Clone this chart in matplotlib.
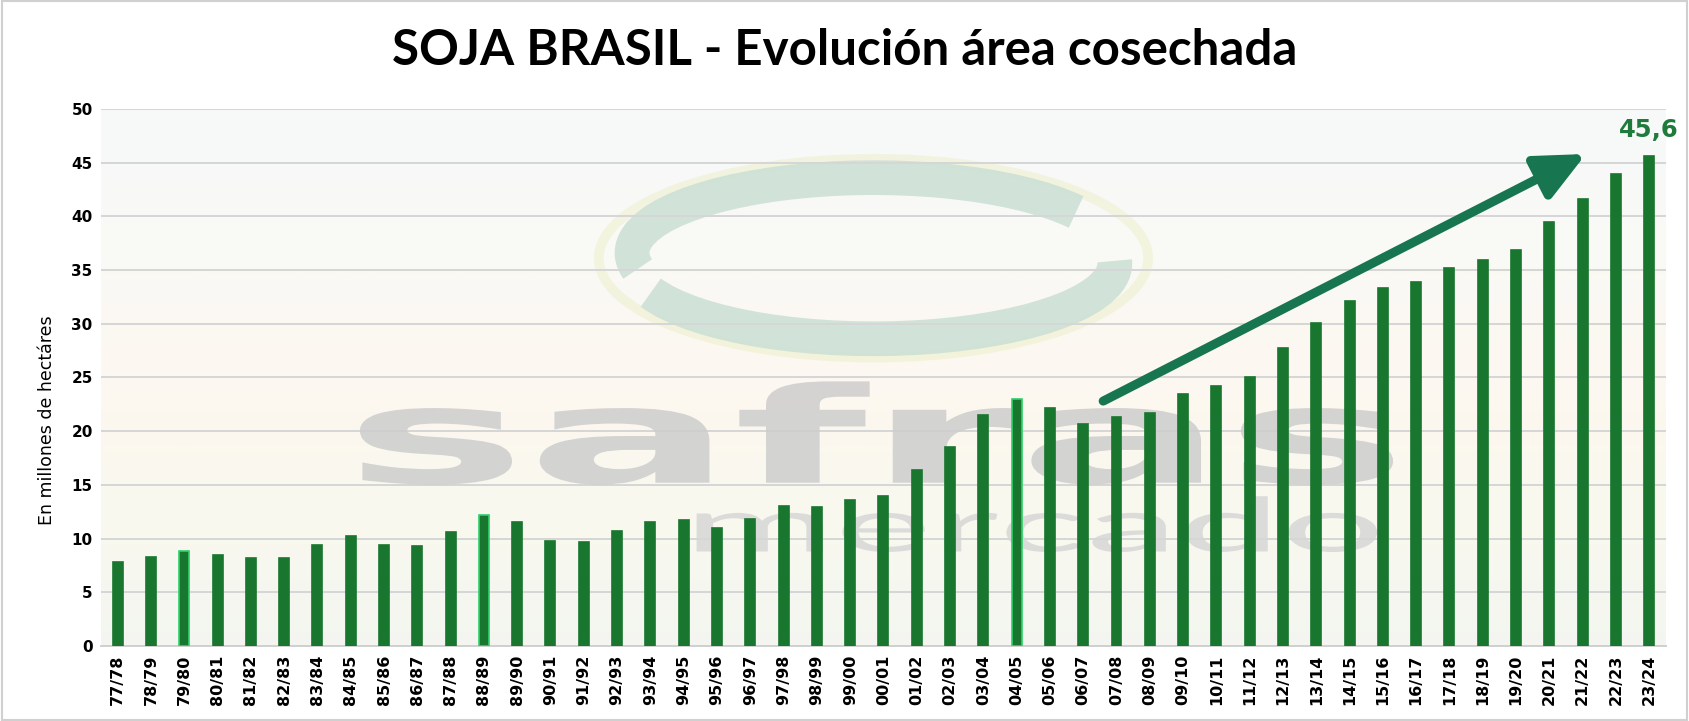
import numpy as np
import matplotlib
matplotlib.use("Agg")
import matplotlib.pyplot as plt
import matplotlib.patches as patches
from matplotlib.patheffects import AbstractPathEffect
from matplotlib.transforms import Affine2D

# ======================================================
# DATOS
# ======================================================
zafras = ["77/78", "78/79", "79/80", "80/81", "81/82", "82/83", "83/84", "84/85",
          "85/86", "86/87", "87/88", "88/89", "89/90", "90/91", "91/92", "92/93",
          "93/94", "94/95", "95/96", "96/97", "97/98", "98/99", "99/00", "00/01",
          "01/02", "02/03", "03/04", "04/05", "05/06", "06/07", "07/08", "08/09",
          "09/10", "10/11", "11/12", "12/13", "13/14", "14/15", "15/16", "16/17",
          "17/18", "18/19", "19/20", "20/21", "21/22", "22/23", "23/24"]
area = [7.8, 8.25, 8.8, 8.5, 8.2, 8.15, 9.4, 10.2,
        9.4, 9.3, 10.6, 12.2, 11.55, 9.8, 9.7, 10.7,
        11.5, 11.7, 11.0, 11.8, 13.0, 12.9, 13.6, 14.0,
        16.4, 18.5, 21.5, 23.0, 22.2, 20.7, 21.3, 21.7,
        23.5, 24.2, 25.0, 27.7, 30.1, 32.1, 33.3, 33.9,
        35.2, 35.9, 36.9, 39.5, 41.6, 43.9, 45.6]
destacadas = ["79/80", "88/89", "04/05"]   # barras con borde claro
etiqueta_final = "45,6"

y_ticks = [0, 5, 10, 15, 20, 25, 30, 35, 40, 45, 50]

verde_barra = "#19762f"
verde_flecha = "#17754f"


# estira el texto en horizontal (para la marca de agua)
class Estirar(AbstractPathEffect):
    def __init__(self, sx):
        super().__init__()
        self.sx = sx

    def draw_path(self, renderer, gc, tpath, affine, rgbFace=None):
        renderer.draw_path(gc, tpath, Affine2D().scale(self.sx, 1) + affine, rgbFace)


# ======================================================
# FIGURA
# ======================================================
fig = plt.figure(figsize=(16.89, 7.21), dpi=100)
fig.patch.set_facecolor("white")
ax = fig.add_axes([0.0598, 0.104, 0.9265, 0.745])

x = np.arange(len(zafras))
ax.set_xlim(-0.5, len(zafras) - 0.5)
ax.set_ylim(0, 50)

# fondo suave (degradado tipo foto)
grad = np.array([[0.965, 0.97, 0.97],
                 [0.975, 0.975, 0.965],
                 [0.99, 0.97, 0.94],
                 [0.99, 0.965, 0.93],
                 [0.975, 0.975, 0.925],
                 [0.955, 0.96, 0.935]])
ax.imshow(grad[:, None, :], extent=(-0.5, len(zafras) - 0.5, 0, 50),
          aspect="auto", interpolation="bicubic", zorder=0, alpha=0.85)

# ======================================================
# MARCA DE AGUA (logo safras)
# ======================================================
cx, cy = 22.7, 36.1
ax.add_patch(patches.Ellipse((cx, cy), 16.5, 18.5, fill=False,
                             lw=7, color="#eef1cf", alpha=0.6, zorder=0.4))
ax.add_patch(patches.Arc((cx, cy + 0.5), 14.5, 14.0, theta1=32, theta2=192,
                         lw=25, color="#cde0d6", alpha=0.9, zorder=0.5))
ax.add_patch(patches.Arc((cx, cy - 0.5), 14.5, 14.0, theta1=202, theta2=362,
                         lw=25, color="#cde0d6", alpha=0.9, zorder=0.5))

ax.text(6.8, 15.2, "safras", fontsize=96, fontweight="bold", color="#cdcdcd",
        alpha=0.85, ha="left", va="baseline", zorder=0.6,
        path_effects=[Estirar(2.3)])
ax.text(17.0, 8.8, "mercado", fontsize=54, color="#d6d6d6",
        family=["Lato", "DejaVu Sans"], alpha=0.85, ha="left", va="baseline",
        zorder=0.6, path_effects=[Estirar(2.45)])

# grilla
ax.set_yticks(y_ticks)
ax.yaxis.grid(True, color="#d6d6d6", linewidth=1.4, zorder=1)
ax.set_axisbelow(True)
for s in ["left", "right", "top"]:
    ax.spines[s].set_visible(False)
ax.spines["bottom"].set_color("#d0d0d0")
ax.spines["bottom"].set_linewidth(1.4)

# barras
colores_borde = ["#2fd06a" if z in destacadas else verde_barra for z in zafras]
ax.bar(x, area, width=0.3, color=verde_barra, edgecolor=colores_borde,
       linewidth=1.2, zorder=3)

ax.set_xticks(x)
ax.set_xticklabels(zafras, rotation=90, fontsize=11.5, fontweight="bold")
ax.tick_params(axis="both", length=0, pad=6)
for lab in ax.get_yticklabels():
    lab.set_fontweight("bold")
    lab.set_fontsize(11)

ax.set_ylabel("En millones de hectáres", fontsize=12.5)
ax.yaxis.set_label_coords(-0.029, 0.42)

# etiqueta del último valor
ax.annotate(etiqueta_final, (x[-1], area[-1]), xytext=(0, 10),
            textcoords="offset points", ha="center", va="bottom",
            fontsize=17.5, fontweight="bold", color="#1e7b3c", zorder=5)

# flecha de tendencia
ax.annotate("", xy=(44.1, 45.8), xytext=(29.6, 22.8),
            arrowprops=dict(arrowstyle="-|>,head_length=1.5,head_width=0.7",
                            color=verde_flecha, lw=6.5, mutation_scale=20,
                            shrinkA=0, shrinkB=0),
            zorder=6)

# título
fig.text(0.5, 0.93, "SOJA BRASIL - Evolución área cosechada",
         ha="center", va="center", fontsize=35.5, fontweight="bold",
         family=["Lato", "DejaVu Sans"], color="black")

# marco de la figura
fig.add_artist(patches.Rectangle((0.001, 0.001), 0.998, 0.997,
                                 transform=fig.transFigure, fill=False,
                                 edgecolor="#d0d0d0", linewidth=1.5))

fig.savefig("out.png", dpi=100)
